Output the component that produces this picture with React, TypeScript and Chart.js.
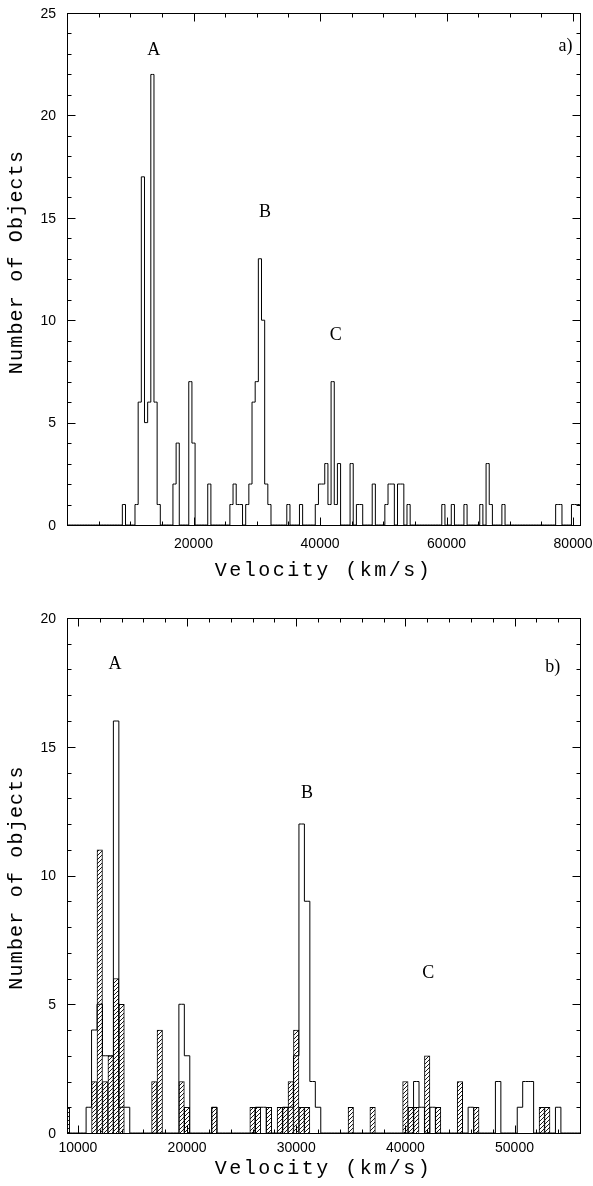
import React, { useEffect, useRef } from "react";
import { Chart, registerables } from "chart.js";

Chart.register(...registerables);

const BIN_WIDTH = 500;

// ---- Panel a): all objects (bin centres in km/s, counts) ----
const aBinCenters = [
  9000, 11000, 11500, 12000, 12500, 13000, 13500, 14000, 14500, 17000, 17500,
  19500, 20000, 22500, 26000, 26500, 27000, 27500, 28500, 29000, 29500, 30000,
  30500, 31000, 31500, 32000, 35000, 37000, 39500, 40000, 40500, 41000, 41500,
  42000, 42500, 43000, 45000, 46000, 46500, 48500, 50500, 51000, 51500, 52500,
  53000, 54000, 59500, 61000, 63000, 65500, 66500, 67000, 69000, 77500, 78000,
  80000, 80500, 81000,
];
const aCounts = [
  1, 1, 6, 17, 5, 6, 22, 6, 1, 2, 4,
  7, 4, 2, 1, 2, 1, 1, 1, 2, 6, 7,
  13, 10, 2, 1, 1, 1, 1, 2, 2, 3, 1,
  7, 1, 3, 3, 1, 1, 2, 1, 2, 2, 2,
  2, 1, 1, 1, 1, 1, 3, 1, 1, 1, 1,
  1, 1, 1,
];

// ---- Panel b): open histogram ----
const bOpenCenters = [
  11000, 11500, 12000, 12500, 13000, 13500, 14000, 14500, 19500, 20000, 22500,
  26500, 27000, 29000, 29500, 30000, 30500, 31000, 31500, 32000, 41000, 41500,
  42500, 46000, 48500, 50500, 51000, 51500, 54000,
];
const bOpenCounts = [
  1, 4, 5, 3, 3, 16, 1, 1, 5, 3, 1,
  1, 1, 1, 1, 3, 12, 9, 2, 1, 2, 1,
  1, 1, 2, 1, 2, 2, 1,
];

// ---- Panel b): hatched histogram ----
const bHatchCenters = [
  9000, 11500, 12000, 12500, 13000, 13500, 14000, 17000, 17500, 19500, 20000,
  22500, 26000, 26500, 27500, 28500, 29000, 29500, 30000, 30500, 31000, 35000,
  37000, 40000, 40500, 41000, 42000, 43000, 45000, 46500, 52500, 53000,
];
const bHatchCounts = [
  1, 2, 11, 2, 3, 6, 5, 2, 4, 2, 1,
  1, 1, 1, 1, 1, 1, 2, 4, 1, 1, 1,
  1, 2, 1, 1, 3, 1, 2, 1, 1, 1,
];

// ---- Tick labels ----
const aXTickLabels = [20000, 40000, 60000, 80000];
const aYTickLabels = [0, 5, 10, 15, 20, 25];
const bXTickLabels = [10000, 20000, 30000, 40000, 50000];
const bYTickLabels = [0, 5, 10, 15, 20];

type Lbl = { text: string; x: number; y: number };

interface Panel {
  xMin: number;
  xMax: number;
  yMax: number;
  xLabels: number[];
  yLabels: number[];
  xMinor: number;
  xMajor: number;
  padTop: number;
  xAxisHeight: number;
  yTitle: string;
  yTitleShift: number;
  xTitle: string;
  xLabelOffset: number;
  xTitleOffset: number;
  notes: Lbl[];
}

function fullGrid(centers: number[], counts: number[], lo: number, hi: number) {
  const m = new Map<number, number>();
  centers.forEach((c, i) => m.set(c, counts[i]));
  const pts: { x: number; y: number }[] = [];
  for (let c = lo; c <= hi; c += BIN_WIDTH) pts.push({ x: c, y: m.get(c) ?? 0 });
  return pts;
}

function hatchPattern(ctx: CanvasRenderingContext2D) {
  const s = 4;
  const c = document.createElement("canvas");
  c.width = s;
  c.height = s;
  const g = c.getContext("2d")!;
  g.fillStyle = "#fff";
  g.fillRect(0, 0, s, s);
  g.strokeStyle = "#000";
  g.lineWidth = 0.9;
  g.beginPath();
  g.moveTo(-1, s + 1);
  g.lineTo(s + 1, -1);
  g.moveTo(-1, 1);
  g.lineTo(1, -1);
  g.moveTo(s - 1, s + 1);
  g.lineTo(s + 1, s - 1);
  g.stroke();
  return ctx.createPattern(c, "repeat")!;
}

function makeChart(canvas: HTMLCanvasElement, p: Panel, datasets: any[], type: any) {
  const frame = {
    id: "frame",
    afterDraw(chart: any) {
      const ctx: CanvasRenderingContext2D = chart.ctx;
      const a = chart.chartArea;
      const xs = chart.scales.x;
      const ys = chart.scales.y;
      ctx.save();
      ctx.strokeStyle = "#000";
      ctx.lineWidth = 1;
      const L = Math.round(a.left) + 0.5;
      const R = Math.round(a.right) + 0.5;
      const T = Math.round(a.top) + 0.5;
      const B = Math.round(a.bottom) + 0.5;
      ctx.strokeRect(L, T, R - L, B - T);
      ctx.beginPath();
      const start = Math.ceil(p.xMin / p.xMinor) * p.xMinor;
      for (let v = start; v <= p.xMax; v += p.xMinor) {
        const len = v % p.xMajor === 0 ? 8 : 4;
        const px = Math.round(xs.getPixelForValue(v)) + 0.5;
        ctx.moveTo(px, B);
        ctx.lineTo(px, B - len);
        ctx.moveTo(px, T);
        ctx.lineTo(px, T + len);
      }
      for (let v = 0; v <= p.yMax; v += 1) {
        const len = v % 5 === 0 ? 8 : 4;
        const py = Math.round(ys.getPixelForValue(v)) + 0.5;
        ctx.moveTo(L, py);
        ctx.lineTo(L + len, py);
        ctx.moveTo(R, py);
        ctx.lineTo(R - len, py);
      }
      ctx.stroke();

      ctx.fillStyle = "#000";
      // tick labels
      ctx.font = '14px "Liberation Sans"';
      ctx.textAlign = "center";
      ctx.textBaseline = "middle";
      for (const v of p.xLabels) {
        ctx.fillText(String(v), xs.getPixelForValue(v), a.bottom + p.xLabelOffset);
      }
      ctx.textAlign = "right";
      for (const v of p.yLabels) {
        ctx.fillText(String(v), a.left - 11, ys.getPixelForValue(v) + 1);
      }

      // axis titles
      ctx.textAlign = "center";
      ctx.font = '20px "Liberation Mono"';
      (ctx as any).letterSpacing = "2.5px";
      ctx.fillText(p.xTitle, (a.left + a.right) / 2, a.bottom + p.xTitleOffset);
      (ctx as any).letterSpacing = "1.2px";
      ctx.save();
      ctx.translate(17, (a.top + a.bottom) / 2 + p.yTitleShift);
      ctx.rotate(-Math.PI / 2);
      ctx.fillText(p.yTitle, 0, 0);
      ctx.restore();
      (ctx as any).letterSpacing = "0px";

      // annotations
      ctx.font = '18px "Liberation Serif"';
      for (const n of p.notes) {
        ctx.fillText(n.text, xs.getPixelForValue(n.x), ys.getPixelForValue(n.y));
      }
      ctx.restore();
    },
  };

  return new Chart(canvas, {
    type,
    data: { datasets },
    options: {
      responsive: false,
      animation: false,
      events: [],
      layout: { padding: { top: p.padTop, right: 13, left: 0, bottom: 0 } },
      plugins: { legend: { display: false }, tooltip: { enabled: false } },
      scales: {
        x: {
          type: "linear",
          min: p.xMin,
          max: p.xMax,
          offset: false,
          grid: { display: false, offset: false },
          border: { display: false },
          ticks: { display: false },
          afterFit: (s: any) => {
            s.height = p.xAxisHeight;
          },
        },
        y: {
          type: "linear",
          min: 0,
          max: p.yMax,
          grid: { display: false },
          border: { display: false },
          ticks: { display: false },
          afterFit: (s: any) => {
            s.width = 67;
          },
        },
      },
    } as any,
    plugins: [frame],
  });
}

const panelA: Panel = {
  xMin: 0,
  xMax: 81100,
  yMax: 25,
  xLabels: aXTickLabels,
  yLabels: aYTickLabels,
  xMinor: 5000,
  xMajor: 20000,
  padTop: 13,
  xAxisHeight: 68,
  yTitle: "Number of Objects",
  yTitleShift: -7,
  xTitle: "Velocity (km/s)",
  xLabelOffset: 19,
  xTitleOffset: 46,
  notes: [
    { text: "A", x: 13700, y: 23.2 },
    { text: "B", x: 31300, y: 15.25 },
    { text: "C", x: 42500, y: 9.25 },
    { text: "a)", x: 78800, y: 23.4 },
  ],
};

const panelB: Panel = {
  xMin: 9000,
  xMax: 56000,
  yMax: 20,
  xLabels: bXTickLabels,
  yLabels: bYTickLabels,
  xMinor: 2000,
  xMajor: 10000,
  padTop: 25,
  xAxisHeight: 53,
  yTitle: "Number of objects",
  yTitleShift: 2,
  xTitle: "Velocity (km/s)",
  xLabelOffset: 15,
  xTitleOffset: 36,
  notes: [
    { text: "A", x: 13400, y: 18.2 },
    { text: "B", x: 31000, y: 13.2 },
    { text: "C", x: 42100, y: 6.2 },
    { text: "b)", x: 53500, y: 18.1 },
  ],
};

export default function App() {
  const topRef = useRef<HTMLCanvasElement>(null);
  const botRef = useRef<HTMLCanvasElement>(null);

  useEffect(() => {
    const ca = topRef.current!;
    const cb = botRef.current!;
    const lineStyle = {
      type: "line",
      stepped: "middle",
      borderColor: "#000",
      borderWidth: 1,
      pointRadius: 0,
      fill: false,
      tension: 0,
      order: 0,
    };
    const chartA = makeChart(
      ca,
      panelA,
      [{ ...lineStyle, data: fullGrid(aBinCenters, aCounts, 0, 82000) }],
      "line"
    );
    const pattern = hatchPattern(cb.getContext("2d")!);
    const chartB = makeChart(
      cb,
      panelB,
      [
        { ...lineStyle, data: fullGrid(bOpenCenters, bOpenCounts, 8500, 56500) },
        {
          type: "bar",
          data: bHatchCenters.map((c, i) => ({ x: c, y: bHatchCounts[i] })),
          backgroundColor: pattern,
          borderColor: "#000",
          borderWidth: 1,
          barPercentage: 1,
          categoryPercentage: 1,
          grouped: false,
          order: 1,
        },
      ],
      "bar"
    );
    return () => {
      chartA.destroy();
      chartB.destroy();
    };
  }, []);

  return (
    <div style={{ position: "absolute", left: 0, top: 0, width: 593, height: 1186, background: "#fff" }}>
      <canvas
        ref={topRef}
        width={593}
        height={593}
        style={{ position: "absolute", left: 0, top: 0, width: 593, height: 593 }}
      />
      <canvas
        ref={botRef}
        width={593}
        height={593}
        style={{ position: "absolute", left: 0, top: 593, width: 593, height: 593 }}
      />
    </div>
  );
}
